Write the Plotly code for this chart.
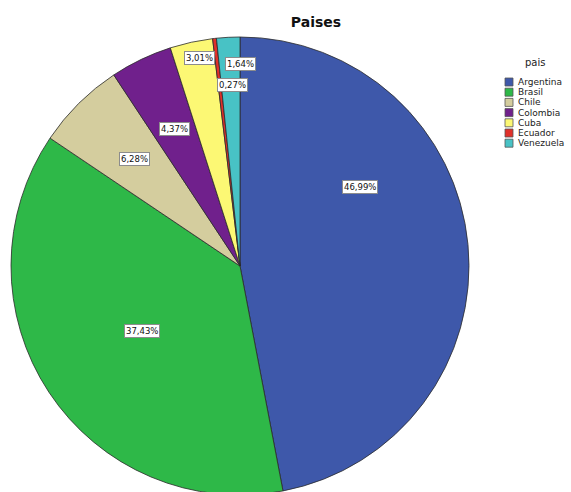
import math
import plotly.graph_objects as go

# Share of records per country
paises = ["Argentina", "Brasil", "Chile", "Colombia", "Cuba", "Ecuador", "Venezuela"]
porcentajes = [46.99, 37.43, 6.28, 4.37, 3.01, 0.27, 1.64]
colores = ["#3e58aa", "#2eb848", "#d4cd9e", "#70208c", "#fcf874", "#e0302a", "#48c2c5"]
titulo = "Paises"
titulo_leyenda = "pais"

# Figure geometry (pixels)
W, H = 571, 500
CX, CY, R = 240, 266, 229

# Label placement: fraction of radius and angular offset (deg) from slice middle
label_r = [0.626, 0.515, 0.655, 0.664, 0.925, 0.789, 0.88]
label_turn = [-28.1, 0.0, 0.0, 0.0, 1.3, 3.9, 3.0]


def fmt(v):
    return f"{v:.2f}".replace(".", ",") + "%"


fig = go.Figure(
    go.Pie(
        labels=paises,
        values=porcentajes,
        sort=False,
        direction="clockwise",
        rotation=0,
        marker=dict(colors=colores, line=dict(color="#2b2b2b", width=0.8)),
        textinfo="none",
        hoverinfo="label+percent",
        showlegend=False,
        domain=dict(x=[(CX - R) / W, (CX + R) / W],
                    y=[1 - (CY + R) / H, 1 - (CY - R) / H]),
    )
)

annotations = []
total = sum(porcentajes)
acc = 0.0
for v, fr, turn in zip(porcentajes, label_r, label_turn):
    mid = 360.0 * (acc + v / 2) / total + turn
    acc += v
    a = math.radians(mid)
    px = CX + R * fr * math.sin(a)
    py = CY - R * fr * math.cos(a)
    annotations.append(dict(
        x=px / W, y=1 - py / H, xref="paper", yref="paper",
        text=fmt(v), showarrow=False,
        xanchor="center", yanchor="middle",
        bgcolor="white", bordercolor="#8c8c8c", borderwidth=1, borderpad=1,
        font=dict(family="DejaVu Sans", size=8.5, color="#111"),
    ))

# Compact legend drawn with swatches and text
LX, LY0, STEP, SW = 505, 82, 10.2, 8
shapes = []
annotations.append(dict(
    x=535 / W, y=1 - 62 / H, xref="paper", yref="paper", text=titulo_leyenda,
    showarrow=False, xanchor="center", yanchor="middle",
    font=dict(family="DejaVu Sans", size=10, color="#222"),
))
for i, (p, c) in enumerate(zip(paises, colores)):
    yc = LY0 + i * STEP
    shapes.append(dict(
        type="rect", xref="paper", yref="paper",
        x0=LX / W, x1=(LX + SW) / W,
        y0=1 - (yc + SW / 2) / H, y1=1 - (yc - SW / 2) / H,
        fillcolor=c, line=dict(color="#555", width=0.8),
    ))
    annotations.append(dict(
        x=(LX + SW + 3) / W, y=1 - yc / H, xref="paper", yref="paper",
        text=p, showarrow=False, xanchor="left", yanchor="middle",
        font=dict(family="DejaVu Sans", size=9, color="#222"),
    ))

fig.update_layout(
    width=W, height=H,
    margin=dict(l=0, r=0, t=0, b=0),
    paper_bgcolor="white", plot_bgcolor="white",
    title=dict(text=f"<b>{titulo}</b>", x=316 / W, xanchor="center",
               y=1 - 22 / H, yanchor="middle",
               font=dict(family="DejaVu Sans", size=14, color="#111")),
    annotations=annotations,
    shapes=shapes,
)

fig.write_html("out.html", post_script="document.body.style.overflow='hidden';")
